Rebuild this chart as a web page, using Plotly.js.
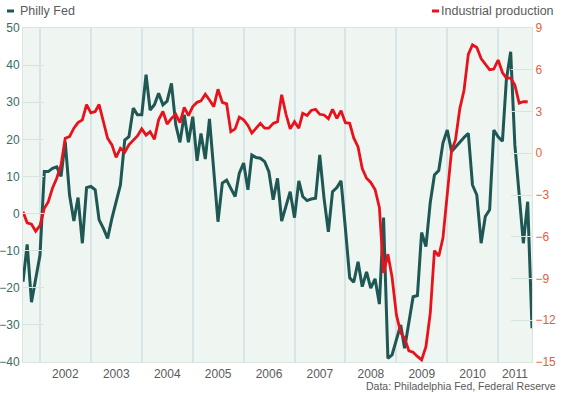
<!DOCTYPE html>
<html>
<head>
<meta charset="utf-8">
<script src="https://cdn.plot.ly/plotly-3.0.1.min.js"></script>
<style>html,body{margin:0;padding:0;background:#fff;}#chart{width:563px;height:393px;}</style>
</head>
<body>
<div id="chart"></div>
<script>
// Monthly data, Aug 2001 .. Aug 2011 (each month plotted at its month end)
const startYear = 2001, startMonth = 8;

// Philly Fed business outlook index (left axis)
const phillyFed = [
  -18.4, -8.3, -23.9, -17.5, -11.2, 11.3, 11.3, 12.2, 12.6, 10.0,
  19.4, 5.0, -2.0, 4.3, -8.0, 7.0, 7.3, 6.4, -1.7, -4.0,
  -6.7, -1.3, 3.2, 7.7, 19.8, 20.7, 28.4, 26.6, 26.6, 37.4,
  27.9, 29.3, 32.4, 29.3, 30.3, 35.1, 23.9, 19.2, 26.6, 19.2,
  26.1, 14.2, 21.6, 14.7, 25.5, 12.2, -2.2, 8.2, 9.0, 6.8,
  4.6, 10.9, 13.6, 6.4, 15.8, 15.1, 14.9, 14.0, 11.3, 3.7,
  9.5, -2.0, 1.9, 5.9, -1.1, 8.8, 4.6, 3.5, 3.9, 4.1,
  15.8, 4.1, -4.9, 5.9, 7.0, 8.8, -4.0, -17.3, -18.5, -13.0,
  -19.7, -15.7, -20.1, -17.6, -24.4, -1.1, -39.0, -38.1, -34.0, -30.0,
  -36.3, -28.9, -22.4, -22.1, -5.1, -8.9, 3.0, 10.4, 11.6, 19.0,
  22.5, 16.7, 18.0, 19.2, 20.5, 21.6, 7.7, 5.0, -8.0, -0.8,
  1.0, 22.5, 20.7, 19.5, 36.0, 43.6, 18.5, 4.0, -8.0, 3.2,
  -30.9
];

// Industrial production, % change y/y (right axis), Aug 2001 .. Jul 2011
const industrialProduction = [
  -4.2, -5.0, -5.1, -5.6, -5.2, -3.95, -3.5, -2.5, -1.8, -0.84,
  1.08, 1.2, 1.8, 2.2, 2.4, 3.5, 2.9, 3.0, 3.5, 2.3,
  1.08, 0.6, -0.3, 0.36, 0.07, 0.6, 0.96, 1.24, 1.75, 1.3,
  1.55, 1.0, 2.4, 3.0, 2.1, 2.5, 2.8, 2.2, 3.3, 2.7,
  3.35, 3.66, 3.76, 4.24, 3.83, 3.35, 4.6, 3.66, 3.55, 1.55,
  1.75, 2.6, 2.4, 2.0, 1.45, 1.8, 2.15, 1.8, 1.8, 2.15,
  2.27, 4.2, 2.8, 1.75, 2.27, 1.8, 2.87, 2.72, 3.07, 3.16,
  2.8, 2.75, 2.48, 3.16, 2.5, 3.06, 2.2, 2.15, 1.1, 0.45,
  -1.1, -1.8, -2.1, -2.6, -3.9, -8.6, -7.25, -8.9, -11.6, -12.9,
  -13.3, -14.2, -14.3, -14.6, -14.85, -13.9, -11.5, -7.0, -7.4, -6.1,
  -3.1, 0.2, 0.95, 3.2, 4.5, 7.1, 7.8, 7.6, 6.8, 6.4,
  6.0, 6.05, 6.7, 5.8, 5.4, 5.4, 4.9, 3.6, 3.7, 3.7
];

const yearLabels = ['2002','2003','2004','2005','2006','2007','2008','2009','2010','2011'];
const yearLabelPos = ['2002-07-02','2003-07-02','2004-07-02','2005-07-02','2006-07-02','2007-07-02','2008-07-02','2009-07-02','2010-07-02','2011-05-02'];
const yearStarts = ['2002-01-01','2003-01-01','2004-01-01','2005-01-01','2006-01-01','2007-01-01','2008-01-01','2009-01-01','2010-01-01','2011-01-01'];
const leftTicks = [-40,-30,-20,-10,0,10,20,30,40,50];
const rightTicks = [-15,-12,-9,-6,-3,0,3,6,9];

function monthEnd(i){
  const d = new Date(Date.UTC(startYear, startMonth - 1 + i + 1, 1));
  return d.toISOString().slice(0,10);
}
const xPhilly = phillyFed.map((_, i) => monthEnd(i));
const xIP = industrialProduction.map((_, i) => monthEnd(i));

const TEAL = '#1e5753', RED = '#e8121c';
const tickFont = 'Liberation Sans, Arial, sans-serif';
const textFont = 'Liberation Sans, Arial, sans-serif';

const traces = [
  {x: xIP, y: industrialProduction, type: 'scatter', mode: 'lines', name: 'Industrial production',
   yaxis: 'y2', line: {color: RED, width: 2.8}},
  {x: xPhilly, y: phillyFed, type: 'scatter', mode: 'lines', name: 'Philly Fed',
   line: {color: TEAL, width: 3}}
];

const W = 563, H = 393, L = 23, R = 31, T = 28, B = 31;
const pw = W - L - R, ph = H - T - B;
const px = v => (v - L) / pw;
const py = v => (H - B - v) / ph;

const layout = {
  width: W, height: H,
  margin: {l: L, r: R, t: T, b: B, pad: 0},
  paper_bgcolor: '#ffffff',
  plot_bgcolor: '#eff5f0',
  showlegend: false,
  xaxis: {
    type: 'date',
    range: [monthEnd(0), monthEnd(120)],
    tickmode: 'array', tickvals: yearLabelPos, ticktext: yearLabels,
    ticks: '', showgrid: false, zeroline: false,
    showline: true, linecolor: '#d9e6e0', linewidth: 1, mirror: true,
    tickfont: {family: tickFont, size: 12, color: '#5a5a5a'},
    ticklabelstandoff: 1,
    minor: {tickmode: 'array', tickvals: yearStarts, showgrid: true, gridcolor: '#d8e5e6', gridwidth: 2, ticks: ''}
  },
  yaxis: {
    range: [-40, 50], tickmode: 'array', tickvals: leftTicks,
    ticks: 'inside', ticklen: 21, tickcolor: '#d6e4df', tickwidth: 1,
    showgrid: false, zeroline: false,
    showline: true, linecolor: '#d9e6e0', linewidth: 1,
    tickfont: {family: tickFont, size: 12, color: '#3a6a64'}
  },
  yaxis2: {
    overlaying: 'y', side: 'right',
    range: [-15, 9], tickmode: 'array', tickvals: rightTicks,
    ticks: 'inside', ticklen: 21, tickcolor: '#d6e4df', tickwidth: 1,
    showgrid: false, zeroline: false,
    showline: true, linecolor: '#d9e6e0', linewidth: 1,
    tickfont: {family: tickFont, size: 12, color: '#e2603e'}
  },
  shapes: [
    {type: 'line', xref: 'paper', yref: 'paper', x0: px(7), x1: px(14), y0: py(11), y1: py(11), line: {color: TEAL, width: 3}},
    {type: 'line', xref: 'paper', yref: 'paper', x0: px(432), x1: px(439), y0: py(11), y1: py(11), line: {color: RED, width: 3}}
  ],
  annotations: [
    {xref: 'paper', yref: 'paper', x: px(18), y: py(11), xanchor: 'left', yanchor: 'middle', showarrow: false,
     text: 'Philly Fed', font: {family: textFont, size: 12.5, color: '#5a5a5a'}},
    {xref: 'paper', yref: 'paper', x: px(439), y: py(11), xanchor: 'left', yanchor: 'middle', showarrow: false,
     text: 'Industrial production', font: {family: textFont, size: 12.5, color: '#5a5a5a'}},
    {xref: 'paper', yref: 'paper', x: px(558), y: py(386), xanchor: 'right', yanchor: 'middle', showarrow: false,
     text: 'Data: Philadelphia Fed, Federal Reserve', font: {family: textFont, size: 10.5, color: '#5a5a5a'}}
  ]
};

Plotly.newPlot('chart', traces, layout, {displayModeBar: false, staticPlot: true});
</script>
</body>
</html>
